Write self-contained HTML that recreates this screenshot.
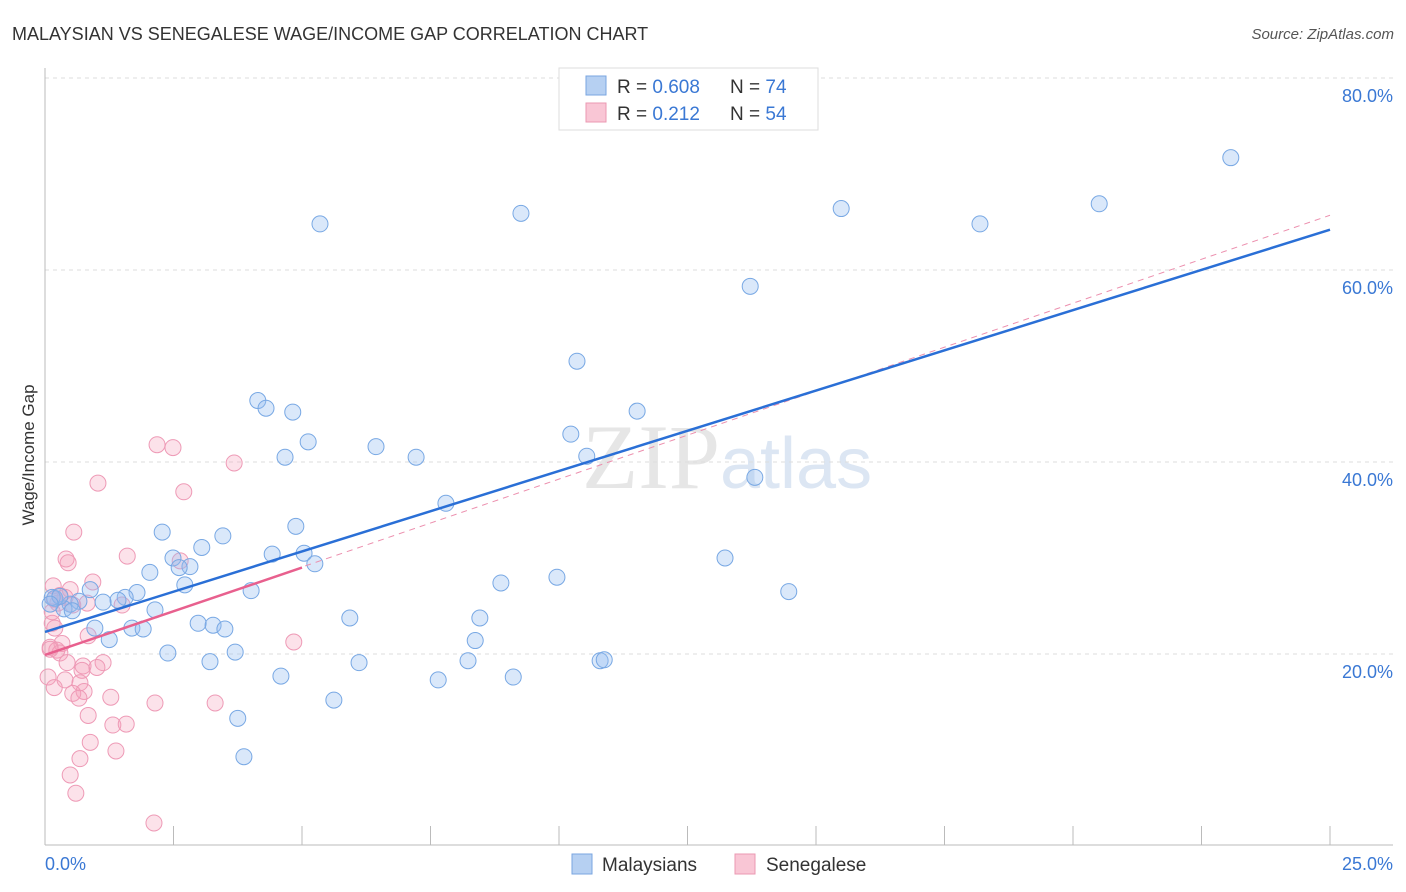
<!DOCTYPE html>
<html><head><meta charset="utf-8">
<style>
body{margin:0;background:#fff;font-family:"Liberation Sans",sans-serif;}
svg{display:block}
</style></head>
<body>
<svg id="chart" width="1406" height="892">
<text x="12" y="40" font-size="18" fill="#333">MALAYSIAN VS SENEGALESE WAGE/INCOME GAP CORRELATION CHART</text>
<text x="1394" y="39" font-size="15" fill="#555" font-style="italic" text-anchor="end">Source: ZipAtlas.com</text>
<text transform="translate(34,455) rotate(-90)" font-size="17" fill="#333" text-anchor="middle">Wage/Income Gap</text>
<text x="720" y="488" font-size="92" fill="#e6e6e6" text-anchor="end" font-family="Liberation Serif,serif">ZIP</text>
<text x="720" y="488" font-size="72" fill="#dce6f3">atlas</text>
<g id="axes"></g>
<g id="marks"></g>
<g>
<rect x="559" y="68" width="259" height="62" fill="#fff" stroke="#ddd"/>
<rect x="586" y="76" width="20" height="19" fill="#b6d0f2" stroke="#7aa6e0"/>
<rect x="586" y="103" width="20" height="19" fill="#f9c6d5" stroke="#eb98b2"/>
<text x="617" y="93" font-size="19" fill="#333">R = <tspan fill="#3a78d4">0.608</tspan></text>
<text x="730" y="93" font-size="19" fill="#333">N = <tspan fill="#3a78d4">74</tspan></text>
<text x="617" y="120" font-size="19" fill="#333">R = <tspan fill="#3a78d4"> 0.212</tspan></text>
<text x="730" y="120" font-size="19" fill="#333">N = <tspan fill="#3a78d4">54</tspan></text>
</g>
<g>
<rect x="572" y="854" width="20" height="20" fill="#b6d0f2" stroke="#7aa6e0"/>
<text x="602" y="871" font-size="19" fill="#333">Malaysians</text>
<rect x="735" y="854" width="20" height="20" fill="#f9c6d5" stroke="#eb98b2"/>
<text x="766" y="871" font-size="19" fill="#333">Senegalese</text>
</g>
</svg>
<script>
const yTicks=[20,40,60,80];
const yTickLabels=["20.0%","40.0%","60.0%","80.0%"];
const xTickCount=10;
const blueX=[23.07,20.51,15.49,18.19,9.26,5.35,13.72,10.35,11.52,4.14,4.30,4.82,5.12,6.44,4.67,7.22,10.23,10.54,13.81,7.80,4.88,2.28,3.46,3.05,4.42,5.04,13.23,2.49,5.25,2.82,2.61,2.04,8.87,9.96,2.72,14.47,4.01,1.79,0.88,1.56,1.42,0.66,1.13,0.49,0.37,0.53,0.19,2.14,5.93,8.46,0.97,2.98,3.27,3.50,1.69,1.91,1.25,8.37,2.39,3.70,3.21,6.11,8.23,10.80,10.88,4.59,7.65,9.11,5.62,3.75,3.87,0.14,0.29,0.10];
const blueY=[71.7,66.9,66.4,64.8,65.9,64.8,58.3,50.5,45.3,46.4,45.6,45.2,42.1,41.6,40.5,40.5,42.9,40.6,38.4,35.7,33.3,32.7,32.3,31.1,30.4,30.5,30.0,30.0,29.4,29.1,29.0,28.5,27.4,28.0,27.2,26.5,26.6,26.4,26.7,25.9,25.6,25.5,25.4,25.2,24.7,24.5,25.8,24.6,23.75,23.75,22.7,23.2,23.0,22.6,22.7,22.6,21.5,21.4,20.1,20.2,19.2,19.1,19.3,19.3,19.4,17.7,17.3,17.6,15.2,13.3,9.3,25.9,26.0,25.2];
const pinkX=[2.18,2.49,1.03,2.70,3.68,0.56,1.60,0.41,0.45,2.63,0.93,0.16,0.18,0.49,0.39,0.25,1.50,0.82,0.54,0.29,0.14,0.19,0.84,0.33,0.10,0.23,4.84,0.29,0.10,0.43,1.13,0.74,0.72,1.01,0.06,0.39,0.68,0.18,0.76,0.54,1.28,0.66,3.31,2.14,0.84,1.32,1.58,0.88,1.38,0.68,0.49,0.60,2.12,0.14];
const pinkY=[41.8,41.5,37.8,36.9,39.9,32.7,30.2,29.9,29.5,29.7,27.5,27.1,25.7,26.7,25.9,25.3,25.1,25.3,25.1,26.1,23.2,22.7,21.9,21.1,20.7,20.4,21.25,20.1,20.5,19.1,19.1,18.75,18.3,18.6,17.6,17.3,17.0,16.5,16.1,15.9,15.5,15.4,14.9,14.9,13.6,12.6,12.7,10.8,9.9,9.1,7.4,5.5,2.4,24.4];
const blueTrend=[22.3,64.2];
const pinkTrend=[19.9,29.0,65.7];
const pinkSolidEnd=5;

const NS="http://www.w3.org/2000/svg";
const X0=45,X1=1330,Y0=846,PPY=9.6;
const xs=v=>X0+(X1-X0)*v/25;
const ys=v=>Y0-v*PPY;
function mk(tag,attrs,parent){const e=document.createElementNS(NS,tag);for(const k in attrs)e.setAttribute(k,attrs[k]);parent.appendChild(e);return e;}
const axes=document.getElementById('axes'),marks=document.getElementById('marks');
yTicks.forEach((t,i)=>{
  const g=mk('line',{x1:X0,x2:1393,y1:ys(t),y2:ys(t),stroke:'#ddd','stroke-dasharray':'4,4'},axes);
  
  
  const tx=mk('text',{x:1393,y:ys(t)+24,'font-size':18,fill:'#3a78d4','text-anchor':'end'},axes);
  tx.textContent=yTickLabels[i];
  
  
});
const ax=mk('line',{x1:X0,x2:1393,y1:845,y2:845,stroke:'#bbb'},axes);


const ay=mk('line',{x1:X0,x2:X0,y1:68,y2:845,stroke:'#bbb'},axes);


for(let i=1;i<=xTickCount;i++){
  const v=25*i/xTickCount;
  const t=mk('line',{x1:xs(v),x2:xs(v),y1:826,y2:845,stroke:'#bbb'},axes);
  
  
}
const xl0=mk('text',{x:X0,y:870,'font-size':18,fill:'#3a78d4'},axes);xl0.textContent='0.0%';


const xl1=mk('text',{x:1393,y:870,'font-size':18,fill:'#3a78d4','text-anchor':'end'},axes);xl1.textContent='25.0%';



pinkY.forEach((y,i)=>{
  const c=mk('circle',{cx:xs(pinkX[i]),cy:ys(y),r:8,fill:'rgba(244,160,186,0.3)',stroke:'#ee9ab6','stroke-width':1},marks);
  
  
});
blueY.forEach((y,i)=>{
  const c=mk('circle',{cx:xs(blueX[i]),cy:ys(y),r:8,fill:'rgba(150,190,240,0.35)',stroke:'#78a8e4','stroke-width':1},marks);
  
  
});
const pd=mk('line',{x1:xs(0),y1:ys(pinkTrend[0]),x2:xs(25),y2:ys(pinkTrend[2]),stroke:'#ec8fae','stroke-width':1,'stroke-dasharray':'6,5'},marks);


const bl=mk('line',{x1:xs(0),y1:ys(blueTrend[0]),x2:xs(25),y2:ys(blueTrend[1]),stroke:'#2a6fd6','stroke-width':2.5},marks);


const pl=mk('line',{x1:xs(0),y1:ys(pinkTrend[0]),x2:xs(pinkSolidEnd),y2:ys(pinkTrend[1]),stroke:'#e8608e','stroke-width':2.5},marks);


</script>
</body></html>
